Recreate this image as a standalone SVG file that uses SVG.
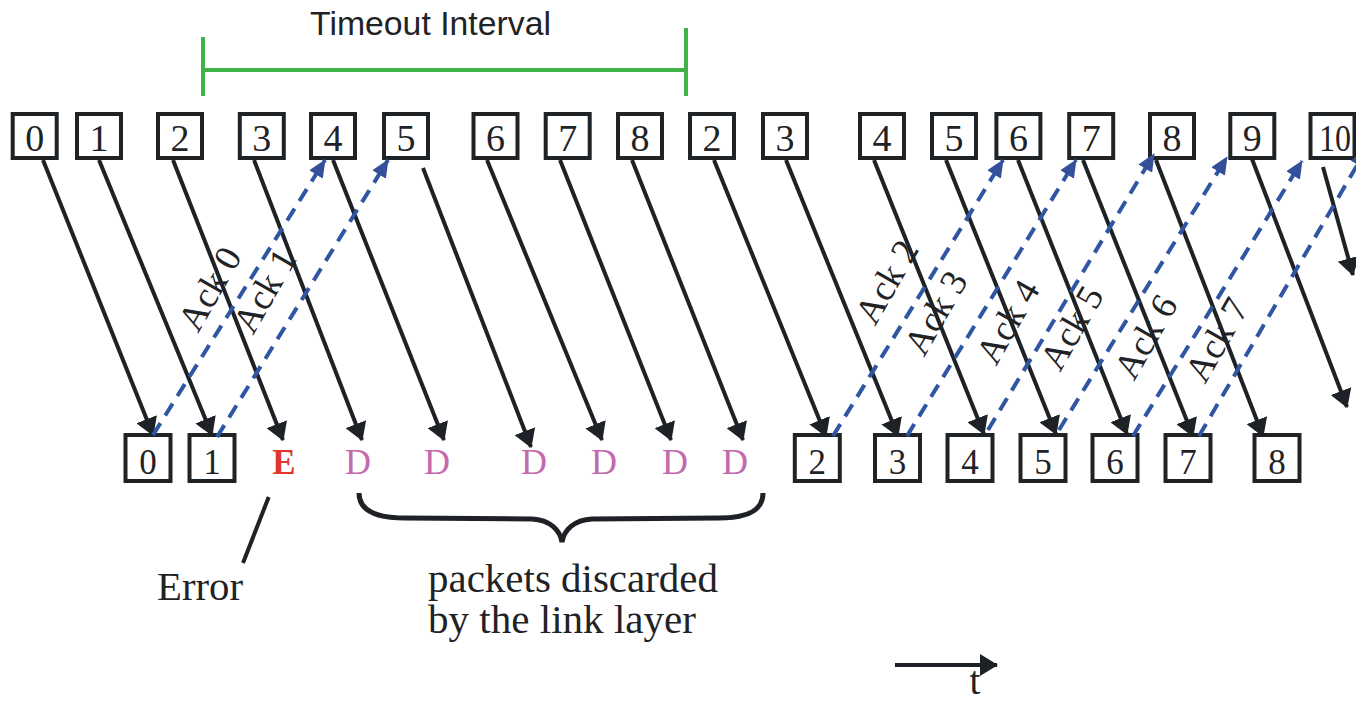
<svg xmlns="http://www.w3.org/2000/svg" width="1356" height="705" viewBox="0 0 1356 705">
<style>
.box{fill:#fff;stroke:#1f2326;stroke-width:4}
.dt{font-family:"Liberation Serif",serif;font-size:38px;fill:#1f2326;text-anchor:middle}
.db{font-family:"Liberation Serif",serif;font-size:35px;fill:#1f2326;text-anchor:middle}
.data{stroke:#1e2226;stroke-width:4;fill:none;marker-end:url(#ah)}
.ack{stroke:#2f56a3;stroke-width:4;fill:none;stroke-dasharray:14 9;marker-end:url(#bh)}
.ackt{font-family:"Liberation Serif",serif;font-size:37px;fill:#1f2326;text-anchor:middle}
.dd{font-family:"Liberation Serif",serif;font-size:36px;fill:#c26aae;text-anchor:middle}
.lbl{font-family:"Liberation Serif",serif;font-size:39px;fill:#1f2326}
.grn{stroke:#3fb24a;stroke-width:4;fill:none}
</style>
<defs>
<marker id="ah" markerUnits="userSpaceOnUse" viewBox="0 0 18 22" markerWidth="18" markerHeight="22" refX="17" refY="11" orient="auto">
<path d="M0,0 L18,11 L0,22 z" fill="#1e2226"/>
</marker>
<marker id="bh" markerUnits="userSpaceOnUse" viewBox="0 0 18 16" markerWidth="18" markerHeight="16" refX="17" refY="8" orient="auto">
<path d="M0,0 L18,8 L0,16 z" fill="#35509a"/>
</marker>
</defs>

<g id="timeout">
<line class="grn" x1="203" y1="70" x2="687" y2="70"/>
<line class="grn" x1="203" y1="37" x2="203" y2="96"/>
<line class="grn" x1="686" y1="28" x2="686" y2="96"/>
<text x="310" y="35" font-family="Liberation Sans, Arial, sans-serif" font-size="33" fill="#1f2326" textLength="241" lengthAdjust="spacingAndGlyphs">Timeout Interval</text>
</g>

<g id="sender">
<g id="s0"><rect class="box" x="12.7" y="114" width="44" height="44"/><text class="dt" x="34.7" y="151">0</text></g>
<g id="s1"><rect class="box" x="77" y="114" width="44" height="44"/><text class="dt" x="99" y="151">1</text></g>
<g id="s2"><rect class="box" x="158" y="114" width="44" height="44"/><text class="dt" x="180" y="151">2</text></g>
<g id="s3"><rect class="box" x="239.8" y="114" width="44" height="44"/><text class="dt" x="261.8" y="151">3</text></g>
<g id="s4"><rect class="box" x="311" y="114" width="44" height="44"/><text class="dt" x="333" y="151">4</text></g>
<g id="s5"><rect class="box" x="384" y="114" width="44" height="44"/><text class="dt" x="406" y="151">5</text></g>
<g id="s6"><rect class="box" x="473.5" y="114" width="44" height="44"/><text class="dt" x="495.5" y="151">6</text></g>
<g id="s7"><rect class="box" x="545.7" y="114" width="44" height="44"/><text class="dt" x="567.7" y="151">7</text></g>
<g id="s8"><rect class="box" x="618" y="114" width="44" height="44"/><text class="dt" x="640" y="151">8</text></g>
<g id="s2b"><rect class="box" x="690" y="114" width="44" height="44"/><text class="dt" x="712" y="151">2</text></g>
<g id="s3b"><rect class="box" x="763" y="114" width="44" height="44"/><text class="dt" x="785" y="151">3</text></g>
<g id="s4b"><rect class="box" x="860" y="114" width="44" height="44"/><text class="dt" x="882" y="151">4</text></g>
<g id="s5b"><rect class="box" x="932" y="114" width="44" height="44"/><text class="dt" x="954" y="151">5</text></g>
<g id="s6b"><rect class="box" x="996.4" y="114" width="44" height="44"/><text class="dt" x="1018.4" y="151">6</text></g>
<g id="s7b"><rect class="box" x="1069.2" y="114" width="44" height="44"/><text class="dt" x="1091.2" y="151">7</text></g>
<g id="s8b"><rect class="box" x="1150" y="114" width="44" height="44"/><text class="dt" x="1172" y="151">8</text></g>
<g id="s9b"><rect class="box" x="1230.3" y="114" width="44" height="44"/><text class="dt" x="1252.3" y="151">9</text></g>
<g id="s10"><rect class="box" x="1310.5" y="114" width="44" height="44"/><text class="dt" x="1335" y="151" textLength="32" lengthAdjust="spacingAndGlyphs">10</text></g>
</g>

<g id="receiver">
<g id="r0"><rect class="box" x="125.5" y="435" width="45" height="46"/><text class="db" x="148" y="474">0</text></g>
<g id="r1"><rect class="box" x="189.5" y="435" width="45" height="46"/><text class="db" x="212" y="474">1</text></g>
<text class="db" x="284" y="474" font-weight="bold" font-size="36" style="fill:#e0352b">E</text>
<text class="dd" x="358" y="474">D</text>
<text class="dd" x="437" y="474">D</text>
<text class="dd" x="534" y="474">D</text>
<text class="dd" x="604" y="474">D</text>
<text class="dd" x="675" y="474">D</text>
<text class="dd" x="735" y="474">D</text>
<g id="r2"><rect class="box" x="794.8" y="435" width="45" height="46"/><text class="db" x="817.3" y="474">2</text></g>
<g id="r3"><rect class="box" x="875" y="435" width="45" height="46"/><text class="db" x="897.5" y="474">3</text></g>
<g id="r4"><rect class="box" x="947.5" y="435" width="45" height="46"/><text class="db" x="970" y="474">4</text></g>
<g id="r5"><rect class="box" x="1020.5" y="435" width="45" height="46"/><text class="db" x="1043" y="474">5</text></g>
<g id="r6"><rect class="box" x="1092.5" y="435" width="45" height="46"/><text class="db" x="1115" y="474">6</text></g>
<g id="r7"><rect class="box" x="1165.5" y="435" width="45" height="46"/><text class="db" x="1188" y="474">7</text></g>
<g id="r8"><rect class="box" x="1254.5" y="435" width="45" height="46"/><text class="db" x="1277" y="474">8</text></g>
</g>

<g id="connectors">
<line class="data" x1="43" y1="160" x2="153" y2="435"/>
<line class="data" x1="99" y1="160" x2="212" y2="435"/>
<line class="data" x1="173" y1="160" x2="283" y2="440"/>
<line class="data" x1="254" y1="160" x2="362" y2="440"/>
<line class="data" x1="333" y1="160" x2="444" y2="440"/>
<line class="data" x1="423" y1="168" x2="531" y2="447"/>
<line class="data" x1="487" y1="160" x2="602" y2="440"/>
<line class="data" x1="560" y1="160" x2="671" y2="440"/>
<line class="data" x1="632" y1="160" x2="743" y2="440"/>
<line class="data" x1="714" y1="160" x2="826" y2="436"/>
<line class="data" x1="786" y1="160" x2="898" y2="436"/>
<line class="data" x1="874" y1="160" x2="984" y2="434"/>
<line class="data" x1="946" y1="160" x2="1056" y2="434"/>
<line class="data" x1="1018" y1="160" x2="1127" y2="434"/>
<line class="data" x1="1083" y1="160" x2="1193" y2="436"/>
<line class="data" x1="1156" y1="160" x2="1263" y2="436"/>
<line class="data" x1="1252" y1="159" x2="1347" y2="407"/>
<line class="data" x1="1323" y1="167" x2="1353" y2="275"/>

<line class="ack" x1="153" y1="435" x2="325" y2="160"/>
<line class="ack" x1="217" y1="437" x2="388" y2="160"/>
<line class="ack" x1="833" y1="436" x2="1003" y2="160"/>
<line class="ack" x1="907" y1="436" x2="1076" y2="160"/>
<line class="ack" x1="988" y1="430" x2="1154" y2="154"/>
<line class="ack" x1="1059" y1="430" x2="1227" y2="157"/>
<line class="ack" x1="1133" y1="436" x2="1302" y2="161"/>
<line class="ack" x1="1199" y1="436" x2="1366" y2="150"/>

<line class="data" x1="895" y1="665" x2="997" y2="665"/>
<line x1="268.7" y1="497" x2="243" y2="563" stroke="#1e2226" stroke-width="4"/>
<path d="M359,493 C359,510 375,518 405,518 L532,519 C550,520 560,530 562,542 C564,530 574,520 592,519 L719,518 C749,518 763,510 763,493" fill="none" stroke="#1e2226" stroke-width="5"/>
</g>

<g id="ack-labels">
<text class="ackt" transform="translate(210,289) rotate(-60)" x="0" y="12">Ack 0</text>
<text class="ackt" transform="translate(265,291) rotate(-60)" x="0" y="12">Ack 1</text>
<text class="ackt" transform="translate(887,282) rotate(-60)" x="0" y="12">Ack 2</text>
<text class="ackt" transform="translate(936,313) rotate(-60)" x="0" y="12">Ack 3</text>
<text class="ackt" transform="translate(1008,322) rotate(-60)" x="0" y="12">Ack 4</text>
<text class="ackt" transform="translate(1072,328) rotate(-60)" x="0" y="12">Ack 5</text>
<text class="ackt" transform="translate(1146,337) rotate(-60)" x="0" y="12">Ack 6</text>
<text class="ackt" transform="translate(1217,340) rotate(-60)" x="0" y="12">Ack 7</text>
</g>

<g id="notes">
<text class="lbl" x="157" y="600" textLength="86" lengthAdjust="spacingAndGlyphs">Error</text>
<text class="lbl" x="428" y="592" textLength="290" lengthAdjust="spacingAndGlyphs">packets discarded</text>
<text class="lbl" x="428" y="633" textLength="268" lengthAdjust="spacingAndGlyphs">by the link layer</text>
<text class="lbl" x="975" y="694" text-anchor="middle" font-size="36">t</text>
</g>
</svg>
